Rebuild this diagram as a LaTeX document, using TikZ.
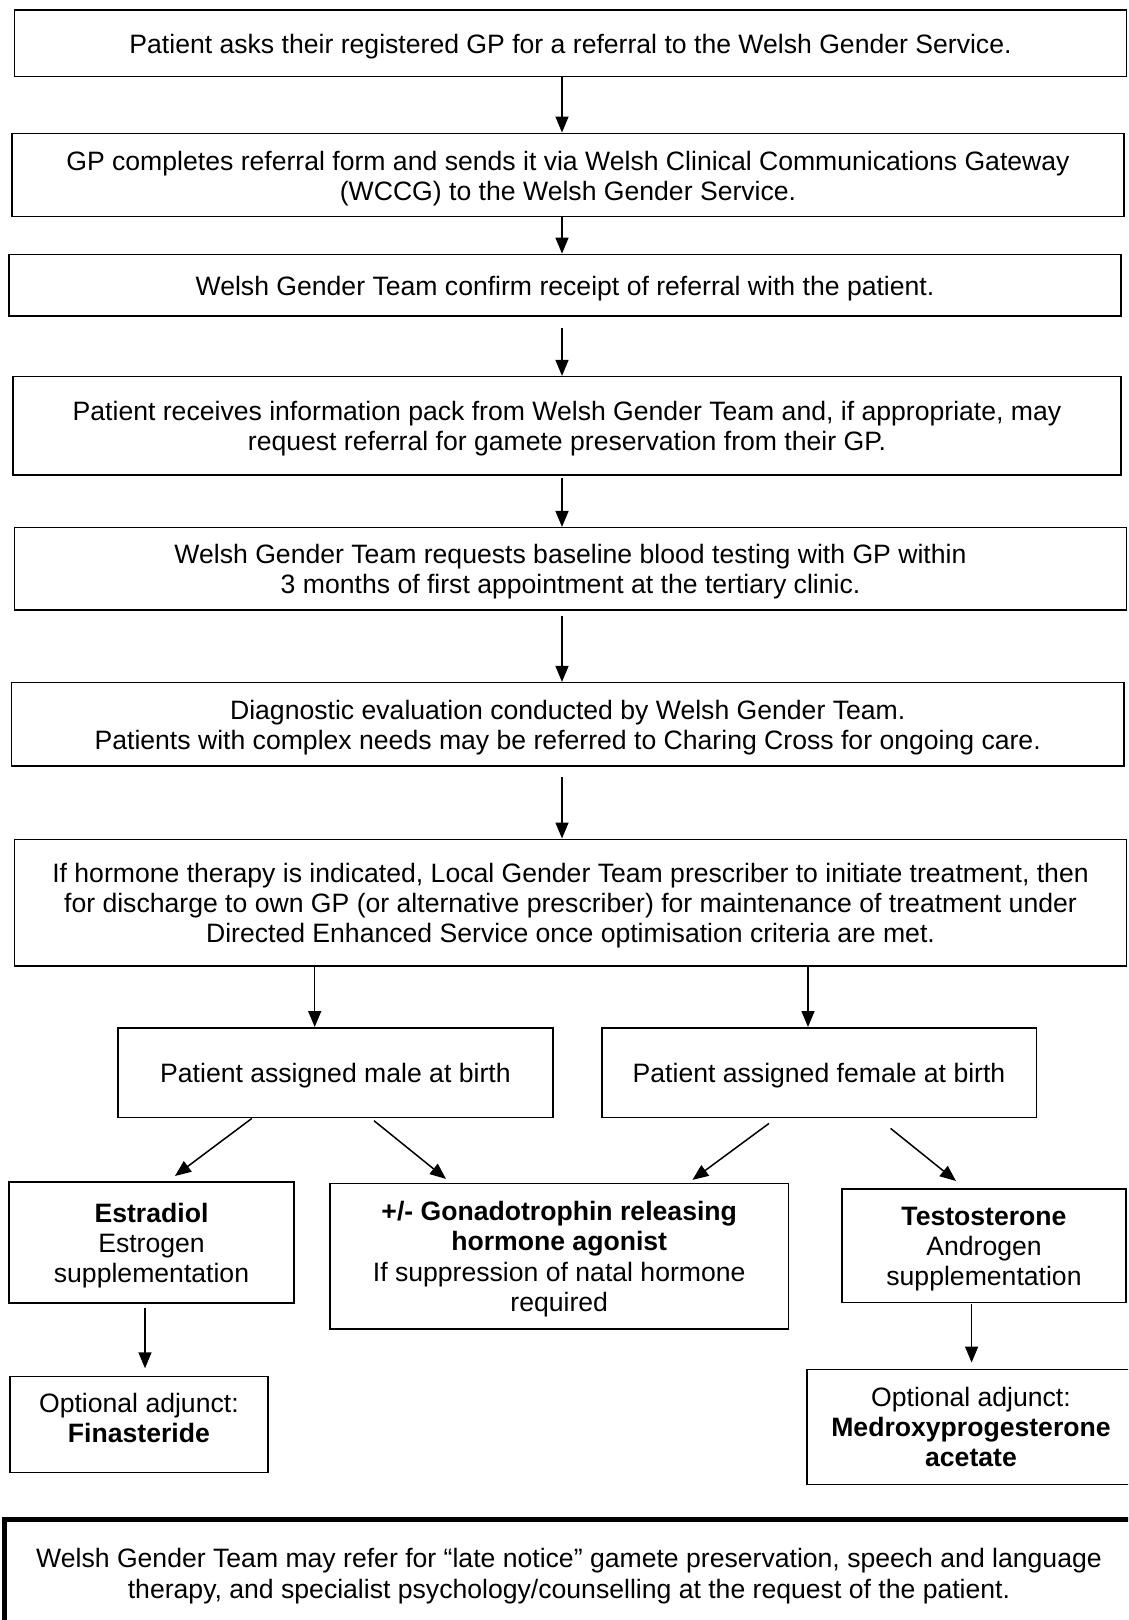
\documentclass[tikz,border=0pt]{standalone}
\usepackage{fontspec}
\setmainfont{Liberation Sans}
\usetikzlibrary{arrows.meta}
\newcommand\ftop{\rule{0pt}{27pt}}
\newcommand\fbot{\rule[-7pt]{0pt}{7pt}}
\begin{document}
\begin{tikzpicture}[x=1pt,y=-1pt,
  box/.style={draw=black, line width=1.5pt, inner sep=0pt, align=center, font=\fontsize{26.6}{30}\selectfont},
  txt/.style={inner sep=0pt, align=center, font=\fontsize{26.6}{30}\selectfont},
  arr/.style={draw=black, line width=1.5pt, -{Triangle[length=16pt,width=13pt]}}]
\useasboundingbox (0,0) rectangle (1128,1620);
\clip (0,0) rectangle (1128,1620);
\fill[white] (0,0) rectangle (1128,1620);

% main column
\node[box, minimum width=1112pt, minimum height=66.7pt] (b1) at (570.5,43.3)
  {\ftop\fbot Patient asks their registered GP for a referral to the Welsh Gender Service.};
\node[box, minimum width=1112pt, minimum height=83.4pt] (b2) at (568,175)
  {\ftop GP completes referral form and sends it via Welsh Clinical Communications Gateway\\\fbot(WCCG) to the Welsh Gender Service.};
\node[box, minimum width=1112pt, minimum height=61.7pt] (b3) at (565,285.2)
  {\ftop\fbot Welsh Gender Team confirm receipt of referral with the patient.};
\node[box, minimum width=1108pt, minimum height=98.3pt] (b4) at (567,425.8)
  {\ftop Patient receives information pack from Welsh Gender Team and, if appropriate, may\\\fbot request referral for gamete preservation from their GP.};
\node[box, minimum width=1112.3pt, minimum height=82.3pt] (b5) at (570.5,568.8)
  {\ftop Welsh Gender Team requests baseline blood testing with GP within\\\fbot 3 months of first appointment at the tertiary clinic.};
\node[box, minimum width=1112.5pt, minimum height=83.3pt] (b6) at (567.7,724.3)
  {\ftop Diagnostic evaluation conducted by Welsh Gender Team.\\\fbot Patients with complex needs may be referred to Charing Cross for ongoing care.};
\node[box, minimum width=1112.3pt, minimum height=126.7pt] (b7) at (570.5,902.6)
  {\ftop If hormone therapy is indicated, Local Gender Team prescriber to initiate treatment, then\\for discharge to own GP (or alternative prescriber) for maintenance of treatment under\\\fbot Directed Enhanced Service once optimisation criteria are met.};

% branches
\node[box, minimum width=434.9pt, minimum height=89.9pt] (male) at (335.4,1072.7)
  {\ftop\fbot Patient assigned male at birth};
\node[box, minimum width=434.5pt, minimum height=89.9pt] (female) at (819,1072.7)
  {\ftop\fbot Patient assigned female at birth};
\node[box, minimum width=285pt, minimum height=121pt] (estr) at (151.5,1242.5)
  {\ftop\textbf{Estradiol}\\Estrogen\\\fbot supplementation};
\node[box, minimum width=458.5pt, minimum height=145.5pt, font=\fontsize{26.6}{30.5}\selectfont] (gnrh) at (559.2,1256.2)
  {\ftop\textbf{+/- Gonadotrophin releasing}\\\textbf{hormone agonist}\\If suppression of natal hormone\\\fbot required};
\node[box, minimum width=284pt, minimum height=113.3pt] (test) at (984,1245.7)
  {\ftop\textbf{Testosterone}\\Androgen\\\fbot supplementation};
\node[box, minimum width=258.3pt, minimum height=96pt] (fin) at (138.9,1424.7) {};
\node[txt] (fint) at (138.9,1418) {Optional adjunct:\\\textbf{Finasteride}};
\node[box, minimum width=328pt, minimum height=115.2pt] (medx) at (971,1426.9)
  {\ftop Optional adjunct:\\\textbf{Medroxyprogesterone}\\\fbot\textbf{acetate}};

% bottom note
\node[draw=black, line width=5pt, inner sep=0pt, minimum width=1140pt, minimum height=141pt] (note) at (574,1589.5) {};
\node[txt, font=\fontsize{26.6}{31}\selectfont] (notet) at (569,1572.8)
  {\ftop Welsh Gender Team may refer for “late notice” gamete preservation, speech and language\\\fbot therapy, and specialist psychology/counselling at the request of the patient.};

% arrow columns
\coordinate (ax) at (562,0);
\coordinate (mx) at (314.7,0);
\coordinate (fx) at (808,0);
\coordinate (ex) at (145,0);
\coordinate (tx) at (971.6,0);

\draw[arr] (b1.south -| ax) -- (b2.north -| ax);
\draw[arr] (b2.south -| ax) -- (b3.north -| ax);
\draw[arr, shorten <=10.7pt] (b3.south -| ax) -- (b4.north -| ax);
\draw[arr, shorten <=2pt] (b4.south -| ax) -- (b5.north -| ax);
\draw[arr, shorten <=5pt] (b5.south -| ax) -- (b6.north -| ax);
\draw[arr, shorten <=10.7pt] (b6.south -| ax) -- (b7.north -| ax);
\draw[arr] (b7.south -| mx) -- (male.north -| mx);
\draw[arr] (b7.south -| fx) -- (female.north -| fx);

\draw[arr] ([xshift=-83.6pt]male.south) -- ([xshift=23.5pt,yshift=5.3pt]estr.north);
\draw[arr] ([xshift=38.6pt,yshift=-2.3pt]male.south) -- ([xshift=-113.2pt,yshift=3.8pt]gnrh.north);
\draw[arr] ([xshift=-50pt,yshift=-5pt]female.south) -- ([xshift=133.2pt,yshift=2.8pt]gnrh.north);
\draw[arr] ([xshift=71.6pt,yshift=-10pt]female.south) -- ([xshift=-28pt,yshift=7.3pt]test.north);

\draw[arr, shorten <=4pt, shorten >=7.7pt] (estr.south -| ex) -- (fin.north -| ex);
\draw[arr, shorten <=1pt, shorten >=6pt] (test.south -| tx) -- (medx.north -| tx);
\end{tikzpicture}
\end{document}
